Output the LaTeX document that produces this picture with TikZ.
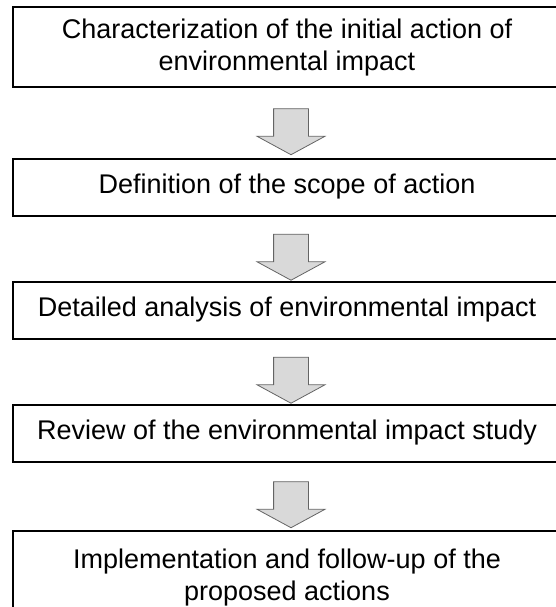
\documentclass[tikz,border=0pt]{standalone}
\usepackage{fontspec}
\setmainfont{Liberation Sans}
\usepackage{tikz}
\usetikzlibrary{positioning,calc,shapes.arrows}
\definecolor{arrowfill}{RGB}{217,217,217}
\definecolor{arrowline}{RGB}{100,100,100}
\tikzset{
stage/.style={draw, line width=2pt, minimum width=548pt, minimum height=57pt,
  inner sep=0pt, align=center, font=\fontsize{27}{32}\selectfont},
flowarrow/.style={single arrow, draw=arrowline, fill=arrowfill, line width=0.8pt,
  rotate=-90, minimum height=46pt, inner xsep=0pt, inner ysep=17pt,
  single arrow head extend=16.5pt, single arrow tip angle=123}
}
\begin{document}
\begin{tikzpicture}[x=1pt,y=-1pt]
\useasboundingbox (0,0) rectangle (556,607);
\node[stage, minimum height=80pt] (s1) at (287,47.5)
  {Characterization of the initial action of\\environmental impact};
\node[stage, below=69pt of s1] (s2) {Definition of the scope of action};
\node[stage, below=64pt of s2] (s3) {Detailed analysis of environmental impact};
\node[stage, below=64pt of s3] (s4) {Review of the environmental impact study};
\node[stage, minimum height=94pt, below=67pt of s4] (s5)
  {Implementation and follow-up of the\\proposed actions};
\foreach \a/\b [count=\i] in {s1/s2,s2/s3,s3/s4,s4/s5}
  \node[flowarrow] (arr\i) at ($(\a.south)!.5!(\b.north)+(4,4)$) {};
\end{tikzpicture}
\end{document}
